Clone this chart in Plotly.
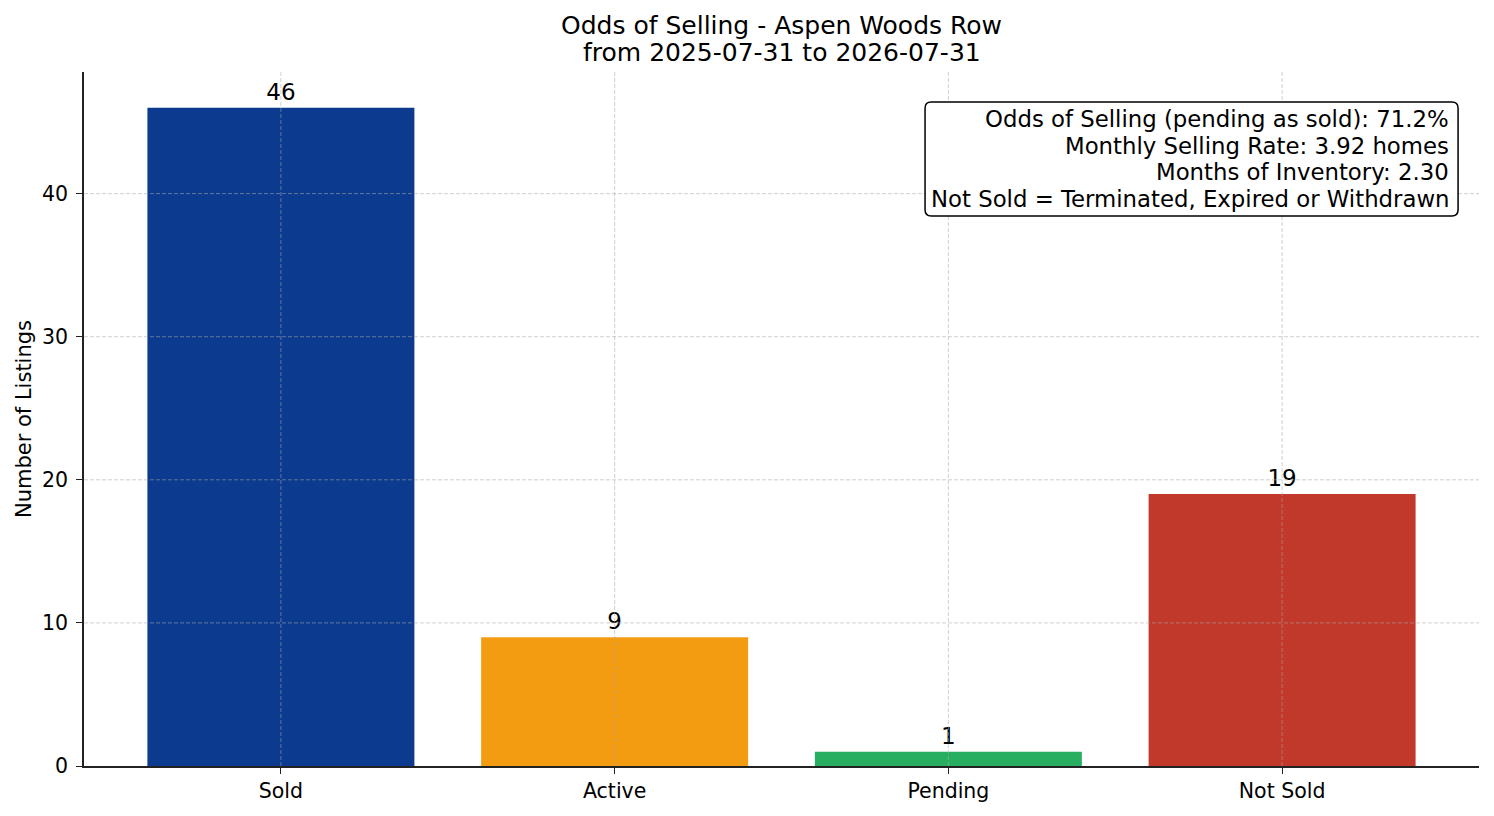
import plotly.graph_objects as go

# data
categories = ["Sold", "Active", "Pending", "Not Sold"]
counts = [46, 9, 1, 19]
bar_colors = ["#0b3a8f", "#f39c12", "#27ae60", "#c0392b"]
y_ticks = [0, 10, 20, 30, 40]

title_lines = ["Odds of Selling - Aspen Woods Row", "from 2025-07-31 to 2026-07-31"]
info_lines = [
    "Odds of Selling (pending as sold): 71.2%",
    "Monthly Selling Rate: 3.92 homes",
    "Months of Inventory: 2.30",
    "Not Sold = Terminated, Expired or Withdrawn",
]

FONT = "DejaVu Sans"
GRID = "rgba(170,170,170,0.55)"

fig = go.Figure(go.Bar(
    x=categories, y=counts,
    marker=dict(color=bar_colors, line=dict(width=0)),
    width=0.8,
    text=[str(c) for c in counts],
    textposition="outside",
    textfont=dict(size=23, color="black", family=FONT),
    cliponaxis=False,
    hoverinfo="x+y",
))

# dashed grid drawn over the bars, like the source
shapes = []
for t in y_ticks[1:]:
    shapes.append(dict(type="line", xref="paper", yref="y", x0=0, x1=1, y0=t, y1=t,
                       line=dict(color=GRID, width=1, dash="4px,2px"), layer="above"))
for c in categories:
    shapes.append(dict(type="line", xref="x", yref="paper", x0=c, x1=c, y0=0, y1=1,
                       line=dict(color=GRID, width=1, dash="4px,2px"), layer="above"))

# rounded box behind the info text (paper coords)
bx0, bx1, by0, by1 = 0.6029, 0.985, 0.7925, 0.9568
rx, ry = 0.0045, 0.009
box_path = (f"M {bx0+rx},{by0} L {bx1-rx},{by0} Q {bx1},{by0} {bx1},{by0+ry} "
            f"L {bx1},{by1-ry} Q {bx1},{by1} {bx1-rx},{by1} "
            f"L {bx0+rx},{by1} Q {bx0},{by1} {bx0},{by1-ry} "
            f"L {bx0},{by0+ry} Q {bx0},{by0} {bx0+rx},{by0} Z")
shapes.append(dict(type="path", xref="paper", yref="paper", path=box_path,
                   fillcolor="white", line=dict(color="black", width=1.5), layer="above"))

annotations = []
for i, line in enumerate(info_lines):
    annotations.append(dict(text=line, xref="paper", yref="paper", x=0.98, y=0.9323 - i * 0.0385,
                            xanchor="right", yanchor="middle", showarrow=False,
                            font=dict(size=22.8, color="black", family=FONT)))
for i, line in enumerate(title_lines):
    annotations.append(dict(text=line, xref="paper", yref="paper", x=0.5, y=1.0677 - i * 0.039,
                            xanchor="center", yanchor="middle", showarrow=False,
                            font=dict(size=25, color="black", family=FONT)))

fig.update_layout(
    width=1494, height=816,
    margin=dict(l=84, r=15, t=72, b=50, autoexpand=False),
    paper_bgcolor="white", plot_bgcolor="white",
    font=dict(family=FONT, color="black"),
    showlegend=False,
    bargap=0.2,
    shapes=shapes,
    annotations=annotations,
    xaxis=dict(
        range=[-0.59, 3.59], showgrid=False, zeroline=False,
        showline=True, linecolor="#222222", linewidth=1.5,
        ticks="outside", ticklen=6, tickwidth=1.2, tickcolor="#222222",
        tickfont=dict(size=20.5, color="black"),
    ),
    yaxis=dict(
        range=[0, 48.5], tickvals=y_ticks, showgrid=False, zeroline=False,
        showline=True, linecolor="#222222", linewidth=1.5,
        ticks="outside", ticklen=6, tickwidth=1.2, tickcolor="#222222",
        tickfont=dict(size=20.5, color="black"), ticklabelstandoff=4,
        title=dict(text="Number of Listings", font=dict(size=21, color="black"), standoff=5),
    ),
)

# the page body has a default 8px margin; drop it so the figure sits at the window corner
fig.write_html("out.html", config={"displayModeBar": False},
               post_script="document.body.style.margin='0';")
